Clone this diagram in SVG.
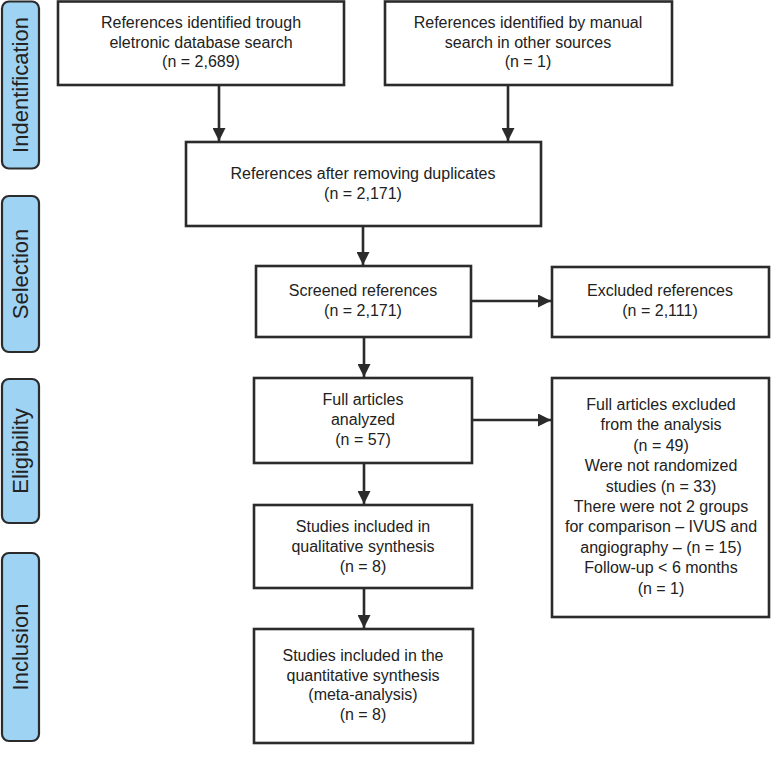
<svg xmlns="http://www.w3.org/2000/svg" width="771" height="759" viewBox="0 0 771 759">
<defs>
<marker id="ah" viewBox="0 0 12 12" refX="12" refY="6" markerWidth="13" markerHeight="13" markerUnits="userSpaceOnUse" orient="auto">
<path d="M0,0 L12,6 L0,12 z" fill="#2b2b2b"/>
</marker>
<style>
.box{fill:#fff;stroke:#2b2b2b;stroke-width:2.6}
.stage{fill:#9fd3f3;stroke:#2b2b2b;stroke-width:2.2}
.t{font-family:"Liberation Sans",Arial,sans-serif;font-size:16px;fill:#222;text-anchor:middle}
.s{font-family:"Liberation Sans",Arial,sans-serif;font-size:22px;fill:#222;text-anchor:middle}
.c{stroke:#2b2b2b;stroke-width:2.6;fill:none;marker-end:url(#ah)}
</style>
</defs>
<rect width="771" height="759" fill="#fff"/>
<g id="stage-identification"><rect class="stage" x="2" y="1.5" width="37" height="167" rx="7"/><text class="s" transform="translate(28,85) rotate(-90)">Indentification</text></g>
<g id="stage-selection"><rect class="stage" x="2" y="196" width="37" height="156" rx="7"/><text class="s" transform="translate(28,274) rotate(-90)">Selection</text></g>
<g id="stage-eligibility"><rect class="stage" x="2" y="379" width="37" height="144" rx="7"/><text class="s" transform="translate(28,451) rotate(-90)">Eligibility</text></g>
<g id="stage-inclusion"><rect class="stage" x="2" y="553" width="37" height="188" rx="7"/><text class="s" transform="translate(28,647) rotate(-90)">Inclusion</text></g>

<g id="n1"><rect class="box" x="58" y="1.5" width="286" height="83.5"/>
<text class="t" x="201" y="28">References identified trough</text>
<text class="t" x="201" y="48">eletronic database search</text>
<text class="t" x="201" y="67">(n = 2,689)</text></g>
<g id="n2"><rect class="box" x="385" y="1.5" width="287" height="83.5"/>
<text class="t" x="528" y="28">References identified by manual</text>
<text class="t" x="528" y="48">search in other sources</text>
<text class="t" x="528" y="67">(n = 1)</text></g>
<g id="n3"><rect class="box" x="186" y="142" width="355" height="84"/>
<text class="t" x="363" y="179">References after removing duplicates</text>
<text class="t" x="363" y="199">(n = 2,171)</text></g>
<g id="n4"><rect class="box" x="256" y="266" width="215" height="71"/>
<text class="t" x="363" y="296">Screened references</text>
<text class="t" x="363" y="316">(n = 2,171)</text></g>
<g id="n5"><rect class="box" x="552" y="267" width="217" height="70"/>
<text class="t" x="660" y="296">Excluded references</text>
<text class="t" x="660" y="316">(n = 2,111)</text></g>
<g id="n6"><rect class="box" x="254" y="378" width="218" height="85"/>
<text class="t" x="363" y="405">Full articles</text>
<text class="t" x="363" y="425">analyzed</text>
<text class="t" x="363" y="445">(n = 57)</text></g>
<g id="n7"><rect class="box" x="254" y="505" width="218" height="83"/>
<text class="t" x="363" y="532">Studies included in</text>
<text class="t" x="363" y="552">qualitative synthesis</text>
<text class="t" x="363" y="572">(n = 8)</text></g>
<g id="n8"><rect class="box" x="254" y="629" width="219" height="114"/>
<text class="t" x="363" y="661">Studies included in the</text>
<text class="t" x="363" y="681">quantitative synthesis</text>
<text class="t" x="363" y="700">(meta-analysis)</text>
<text class="t" x="363" y="720">(n = 8)</text></g>
<g id="n9"><rect class="box" x="552" y="378" width="217" height="239"/>
<text class="t" x="661" y="410">Full articles excluded</text>
<text class="t" x="661" y="430.4">from the analysis</text>
<text class="t" x="661" y="450.8">(n = 49)</text>
<text class="t" x="661" y="471.2">Were not randomized</text>
<text class="t" x="661" y="491.6">studies (n = 33)</text>
<text class="t" x="661" y="512">There were not 2 groups</text>
<text class="t" x="661" y="532.4">for comparison – IVUS and</text>
<text class="t" x="661" y="552.8">angiography – (n = 15)</text>
<text class="t" x="661" y="573.2">Follow-up &lt; 6 months</text>
<text class="t" x="661" y="593.6">(n = 1)</text></g>

<g id="connectors">
<line class="c" x1="219" y1="85" x2="219" y2="141"/>
<line class="c" x1="508" y1="85" x2="508" y2="141"/>
<line class="c" x1="363" y1="226" x2="363" y2="265"/>
<line class="c" x1="471" y1="301" x2="551" y2="301"/>
<line class="c" x1="364" y1="337" x2="364" y2="377"/>
<line class="c" x1="472" y1="420" x2="551" y2="420"/>
<line class="c" x1="364" y1="463" x2="364" y2="504"/>
<line class="c" x1="364" y1="588" x2="364" y2="628"/>
</g>
</svg>
